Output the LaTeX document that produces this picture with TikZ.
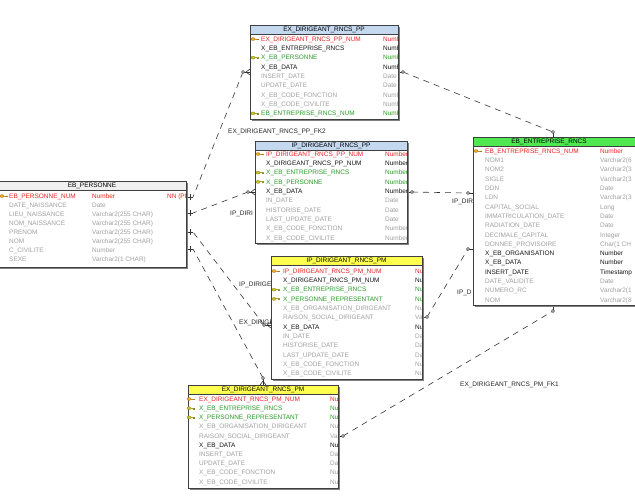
\documentclass[tikz,border=0pt]{standalone}
\usepackage{fontspec}
\setmainfont{Liberation Sans}
\definecolor{pkc}{RGB}{235,35,35}
\definecolor{fkc}{RGB}{40,155,40}
\definecolor{optc}{RGB}{160,160,160}
\definecolor{mandc}{RGB}{20,20,20}
\definecolor{hblue}{RGB}{196,216,240}
\definecolor{hgreen}{RGB}{80,232,80}
\definecolor{hyellow}{RGB}{255,255,80}
\definecolor{hgray}{RGB}{240,240,240}
\definecolor{keypk}{RGB}{240,170,40}
\definecolor{keyfk}{RGB}{200,195,40}
\tikzset{
  tabbox/.style={fill=white, inner sep=0pt, outer sep=0pt, anchor=north west},
  frame/.style={draw=black!75, line width=0.8pt},
  shadowc/.style={fill=black!50},
  fld/.style={font=\fontsize{6.45}{7}\selectfont, anchor=base west, inner sep=0pt, yshift=-2.3pt},
  ttl/.style={font=\fontsize{6.45}{7}\selectfont, anchor=base, inner sep=0pt},
  rel/.style={draw=black!80, line width=0.6pt, dash pattern=on 6pt off 5pt},
  stub/.style={draw=black!80, line width=0.6pt},
  endc/.style={circle, draw=black!80, fill=white, line width=0.5pt, inner sep=0pt, minimum size=3pt},
  lbl/.style={font=\fontsize{6.5}{7}\selectfont, anchor=base west, inner sep=0pt, text=black!85, yshift=-2.3pt},
}
\newcounter{rowc}
\newcommand\erow[6]{\stepcounter{rowc}%
  \node[fld,text=#4] (rn\arabic{rowc}) at (#1,#3) {#5};%
  \node[fld,text=#4] (rt\arabic{rowc}) at (#2,#3) {#6};}
\newcommand\ekey[3]{%
  \draw[#3!70!black, fill=#3, line width=0.3pt] (#1+2,#2) ellipse (2 and 1.5);
  \draw[#3!85!black, line width=1pt] (#1+4,#2) -- (#1+8,#2);
  \draw[#3!70!black, line width=0.5pt] (#1+6.2,#2) -- (#1+6.2,#2+1.4) (#1+7.7,#2) -- (#1+7.7,#2+1.4);}
\newcommand\etable[8]{% name l t r b hdrcolor titlex title
  \fill[shadowc] (#2+2.2,#3+2.2) rectangle (#4+2.2,#5+2.2);
  \node[tabbox, minimum width={(#4-(#2))*1pt}, minimum height={(#5-(#3))*1pt}] (#1) at (#2,#3) {};
  \fill[#6] (#2,#3) rectangle (#4,#3+9);
  \draw[frame] (#2,#3+9) -- (#4,#3+9);
  \draw[frame] (#1.north west) rectangle (#1.south east);
  \node[ttl] (#1-title) at (#7,#3+6.8) {#8};}
\begin{document}
\catcode`\_=12
\begin{tikzpicture}[x=1pt,y=-1pt]
\useasboundingbox (0,0) rectangle (635,499);
\clip (0,0) rectangle (635,499);
\fill[white] (0,0) rectangle (635,499);

% ---------- connector end points ----------
\coordinate (r1a) at (250,72);  \coordinate (r1ao) at (243,72);
\coordinate (r1b) at (186,197); \coordinate (r1bo) at (193,197);
\coordinate (r2a) at (398,72);  \coordinate (r2ao) at (403,72);
\coordinate (r2b) at (553,137); \coordinate (r2bo) at (553,132);
\coordinate (r3a) at (407,192); \coordinate (r3ao) at (412,192);
\coordinate (r3b) at (473,193); \coordinate (r3bo) at (468,193);
\coordinate (r4a) at (422,318); \coordinate (r4ao) at (427,317);
\coordinate (r4b) at (473,249); \coordinate (r4bo) at (468,249);
\coordinate (r5a) at (338,436); \coordinate (r5ao) at (343,436);
\coordinate (r5b) at (553,305); \coordinate (r5bo) at (553,311);
\coordinate (r6a) at (255,192); \coordinate (r6ao) at (248,192);
\coordinate (r6b) at (186,213); \coordinate (r6bo) at (193,213);
\coordinate (r7a) at (271,325); \coordinate (r7ao) at (264,325);
\coordinate (r7b) at (186,232); \coordinate (r7bo) at (193,232);
\coordinate (r8a) at (263,385); \coordinate (r8ao) at (263,378);
\coordinate (r8b) at (186,249); \coordinate (r8bo) at (193,249);

% ---------- relations ----------
\draw[rel] (r1ao) -- (r1bo);
\draw[rel] (r2ao) -- (r2bo);
\draw[rel] (r3ao) -- (r3bo);
\draw[rel] (r4ao) -- (r4bo);
\draw[rel] (r5ao) -- (r5bo);
\draw[rel] (r6ao) -- (r6bo);
\draw[rel] (r7ao) -- (r7bo);
\draw[rel] (r8ao) -- (r8bo);
\foreach \p in {1,2,3,4,5,6,7,8}{\draw[stub] (r\p a) -- (r\p ao); \draw[stub] (r\p b) -- (r\p bo);}
% crow's feet on the FK side
\draw[stub] (r1a) ++(0,-3) -- ++(-4,3) -- ++(4,3);
\draw[stub] (r6a) ++(0,-3) -- ++(-4,3) -- ++(4,3);
\draw[stub] (r7a) ++(0,-3) -- ++(-4,3) -- ++(4,3);
\draw[stub] (r8a) ++(-3,0) -- ++(3,-4) -- ++(3,4);
% ticks on EB_PERSONNE side
\foreach \p in {1,6,7,8}{\draw[stub] (r\p b) ++(4,-3) -- ++(0,6);}
% circles
\node[endc] (c1) at (r1ao) {};
\node[endc] (c2) at (r2ao) {};
\node[endc] (c3) at (r2bo) {};
\node[endc] (c4) at (r3ao) {};
\node[endc] (c5) at (r3bo) {};
\node[endc] (c6) at (r4ao) {};
\node[endc] (c7) at (r4bo) {};
\node[endc] (c8) at (r5ao) {};
\node[endc] (c9) at (r5bo) {};
\node[endc] (c10) at (r6ao) {};
\node[endc] (c11) at (r7ao) {};
\node[endc] (c12) at (r8ao) {};

% ---------- relation labels ----------
\node[lbl] (l1) at (228,131) {EX_DIRIGEANT_RNCS_PP_FK2};
\node[lbl] (l3) at (452,201) {IP_DIR};
\node[lbl] (l4) at (457,292) {IP_D};
\node[lbl] (l5) at (460,384) {EX_DIRIGEANT_RNCS_PM_FK1};
\node[lbl] (l6) at (230,213) {IP_DIRI};
\node[lbl] (l7) at (239,284) {IP_DIRIGE};
\node[lbl] (l8) at (239,322) {EX_DIRIGE};

% ---------- EX_DIRIGEANT_RNCS_PP ----------
\etable{t1}{250}{25}{398}{119}{hblue}{324}{EX_DIRIGEANT_RNCS_PP}
\begin{scope}
\clip (250,34) rectangle (397,119);
\erow{261}{383}{39}{pkc}{EX_DIRIGEANT_RNCS_PP_NUM}{Number}
\erow{261}{383}{48.3}{mandc}{X_EB_ENTREPRISE_RNCS}{Number}
\erow{261}{383}{57.6}{fkc}{X_EB_PERSONNE}{Number}
\erow{261}{383}{66.9}{mandc}{X_EB_DATA}{Number}
\erow{261}{383}{76.2}{optc}{INSERT_DATE}{Date}
\erow{261}{383}{85.5}{optc}{UPDATE_DATE}{Date}
\erow{261}{383}{94.8}{optc}{X_EB_CODE_FONCTION}{Number}
\erow{261}{383}{104.1}{optc}{X_EB_CODE_CIVILITE}{Number}
\erow{261}{383}{113.4}{fkc}{EB_ENTREPRISE_RNCS_NUM}{Number}
\end{scope}
\ekey{251}{39}{keypk}\ekey{251}{57.6}{keyfk}\ekey{251}{113.4}{keyfk}

% ---------- IP_DIRIGEANT_RNCS_PP ----------
\etable{t2}{255}{141}{407}{243}{hblue}{331}{IP_DIRIGEANT_RNCS_PP}
\begin{scope}
\clip (255,150) rectangle (406,243);
\erow{266}{385}{154}{pkc}{IP_DIRIGEANT_RNCS_PP_NUM}{Number}
\erow{266}{385}{163.3}{mandc}{X_DIRIGEANT_RNCS_PP_NUM}{Number}
\erow{266}{385}{172.6}{fkc}{X_EB_ENTREPRISE_RNCS}{Number}
\erow{266}{385}{181.9}{fkc}{X_EB_PERSONNE}{Number}
\erow{266}{385}{191.2}{mandc}{X_EB_DATA}{Number}
\erow{266}{385}{200.5}{optc}{IN_DATE}{Date}
\erow{266}{385}{209.8}{optc}{HISTORISE_DATE}{Date}
\erow{266}{385}{219.1}{optc}{LAST_UPDATE_DATE}{Date}
\erow{266}{385}{228.4}{optc}{X_EB_CODE_FONCTION}{Number}
\erow{266}{385}{237.7}{optc}{X_EB_CODE_CIVILITE}{Number}
\end{scope}
\ekey{256}{154}{keypk}\ekey{256}{172.6}{keyfk}\ekey{256}{181.9}{keyfk}

% ---------- EB_PERSONNE ----------
\etable{t3}{-2}{181}{186}{267}{hgray}{92}{EB_PERSONNE}
\begin{scope}
\clip (-2,190) rectangle (185,267);
\erow{9}{92}{196}{pkc}{EB_PERSONNE_NUM}{Number}
\node[fld,text=pkc] (t3nn) at (167,196) {NN (PK)};
\erow{9}{92}{205}{optc}{DATE_NAISSANCE}{Date}
\erow{9}{92}{214}{optc}{LIEU_NAISSANCE}{Varchar2(255 CHAR)}
\erow{9}{92}{223}{optc}{NOM_NAISSANCE}{Varchar2(255 CHAR)}
\erow{9}{92}{232}{optc}{PRENOM}{Varchar2(255 CHAR)}
\erow{9}{92}{241}{optc}{NOM}{Varchar2(255 CHAR)}
\erow{9}{92}{250}{optc}{C_CIVILITE}{Number}
\erow{9}{92}{259}{optc}{SEXE}{Varchar2(1 CHAR)}
\end{scope}
\ekey{0}{196}{keypk}

% ---------- EB_ENTREPRISE_RNCS ----------
\etable{t4}{473}{137}{660}{305}{hgreen}{549}{EB_ENTREPRISE_RNCS}
\begin{scope}
\clip (473,145) rectangle (660,305);
\erow{485}{600}{151}{pkc}{EB_ENTREPRISE_RNCS_NUM}{Number}
\erow{485}{600}{160.3}{optc}{NOM1}{Varchar2(6}
\erow{485}{600}{169.6}{optc}{NOM2}{Varchar2(3}
\erow{485}{600}{178.9}{optc}{SIGLE}{Varchar2(3}
\erow{485}{600}{188.2}{optc}{DDN}{Date}
\erow{485}{600}{197.5}{optc}{LDN}{Varchar2(3}
\erow{485}{600}{206.8}{optc}{CAPITAL_SOCIAL}{Long}
\erow{485}{600}{216.1}{optc}{IMMATRICULATION_DATE}{Date}
\erow{485}{600}{225.4}{optc}{RADIATION_DATE}{Date}
\erow{485}{600}{234.7}{optc}{DECIMALE_CAPITAL}{Integer}
\erow{485}{600}{244}{optc}{DONNEE_PROVISOIRE}{Char(1 CH}
\erow{485}{600}{253.3}{mandc}{X_EB_ORGANISATION}{Number}
\erow{485}{600}{262.6}{mandc}{X_EB_DATA}{Number}
\erow{485}{600}{271.9}{mandc}{INSERT_DATE}{Timestamp}
\erow{485}{600}{281.2}{optc}{DATE_VALIDITE}{Date}
\erow{485}{600}{290.5}{optc}{NUMERO_RC}{Varchar2(1}
\erow{485}{600}{299.8}{optc}{NOM}{Varchar2(8}
\end{scope}
\ekey{474}{151}{keypk}

% ---------- IP_DIRIGEANT_RNCS_PM ----------
\etable{t5}{271}{256}{422}{379}{hyellow}{346.5}{IP_DIRIGEANT_RNCS_PM}
\begin{scope}
\clip (271,265) rectangle (421,379);
\erow{283}{415}{271}{pkc}{IP_DIRIGEANT_RNCS_PM_NUM}{Number}
\erow{283}{415}{280.3}{mandc}{X_DIRIGEANT_RNCS_PM_NUM}{Number}
\erow{283}{415}{289.6}{fkc}{X_EB_ENTREPRISE_RNCS}{Number}
\erow{283}{415}{298.9}{fkc}{X_PERSONNE_REPRESENTANT}{Number}
\erow{283}{415}{308.2}{optc}{X_EB_ORGANISATION_DIRIGEANT}{Number}
\erow{283}{415}{317.5}{optc}{RAISON_SOCIAL_DIRIGEANT}{Varchar2}
\erow{283}{415}{326.8}{mandc}{X_EB_DATA}{Number}
\erow{283}{415}{336.1}{optc}{IN_DATE}{Date}
\erow{283}{415}{345.4}{optc}{HISTORISE_DATE}{Date}
\erow{283}{415}{354.7}{optc}{LAST_UPDATE_DATE}{Date}
\erow{283}{415}{364}{optc}{X_EB_CODE_FONCTION}{Number}
\erow{283}{415}{373.3}{optc}{X_EB_CODE_CIVILITE}{Number}
\end{scope}
\ekey{272}{271}{keypk}\ekey{272}{289.6}{keyfk}\ekey{272}{298.9}{keyfk}

% ---------- EX_DIRIGEANT_RNCS_PM ----------
\etable{t6}{188}{385}{338}{488}{hyellow}{263}{EX_DIRIGEANT_RNCS_PM}
\begin{scope}
\clip (188,393) rectangle (337,488);
\erow{199}{330}{399}{pkc}{EX_DIRIGEANT_RNCS_PM_NUM}{Number}
\erow{199}{330}{408.2}{fkc}{X_EB_ENTREPRISE_RNCS}{Number}
\erow{199}{330}{417.4}{fkc}{X_PERSONNE_REPRESENTANT}{Number}
\erow{199}{330}{426.6}{optc}{X_EB_ORGANISATION_DIRIGEANT}{Number}
\erow{199}{330}{435.8}{optc}{RAISON_SOCIAL_DIRIGEANT}{Varchar2}
\erow{199}{330}{445}{mandc}{X_EB_DATA}{Number}
\erow{199}{330}{454.2}{optc}{INSERT_DATE}{Date}
\erow{199}{330}{463.4}{optc}{UPDATE_DATE}{Date}
\erow{199}{330}{472.6}{optc}{X_EB_CODE_FONCTION}{Number}
\erow{199}{330}{481.8}{optc}{X_EB_CODE_CIVILITE}{Number}
\end{scope}
\ekey{187}{399}{keypk}\ekey{187}{408.2}{keyfk}\ekey{187}{417.4}{keyfk}
\end{tikzpicture}
\end{document}
